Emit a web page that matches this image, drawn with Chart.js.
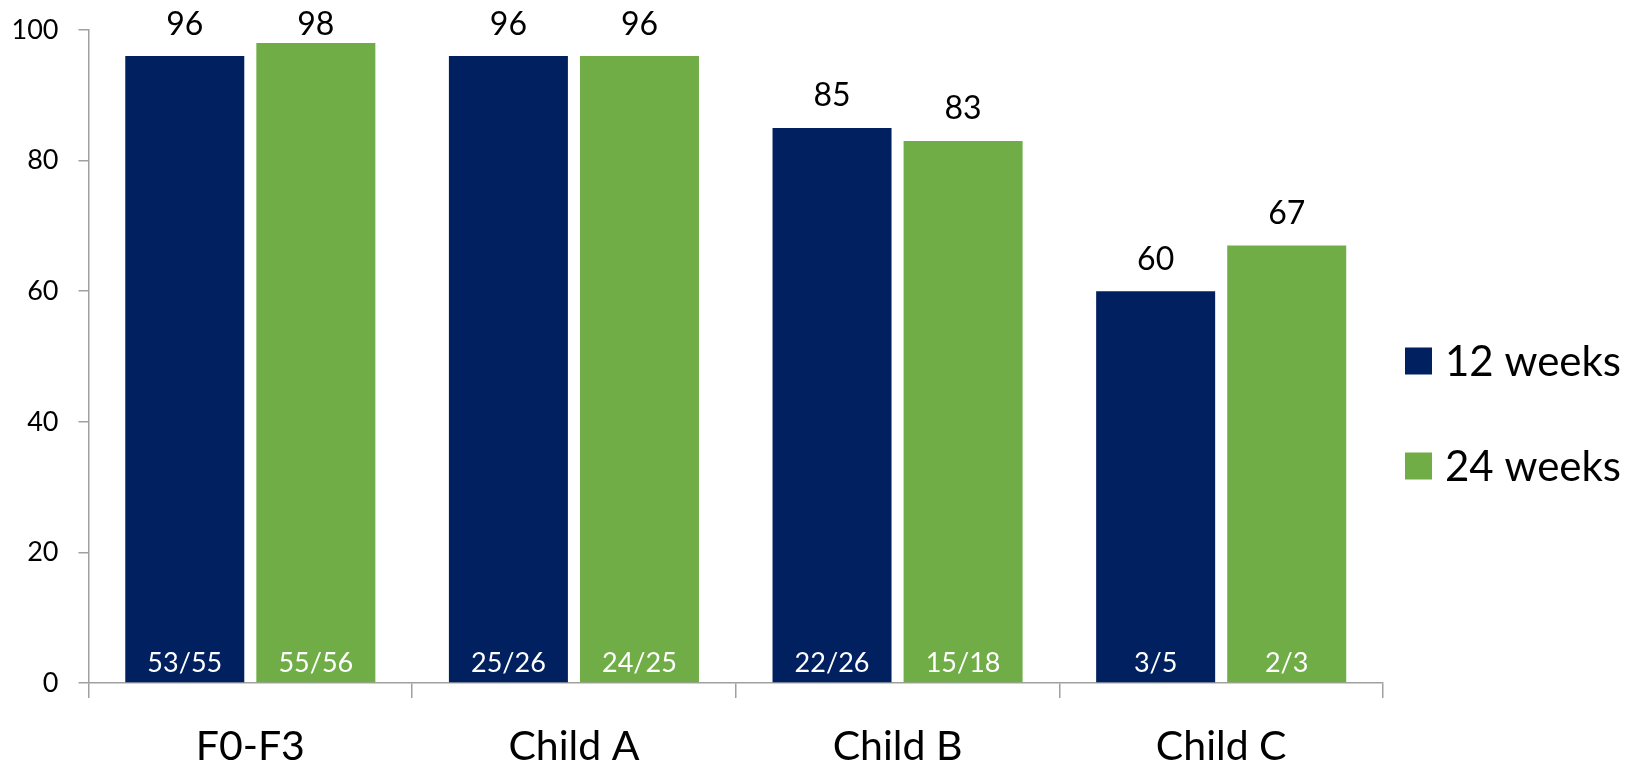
<!DOCTYPE html>
<html>
<head>
<meta charset="utf-8">
<script src="https://cdn.jsdelivr.net/npm/chart.js@4/dist/chart.umd.min.js"></script>
<style>
  html, body { margin: 0; padding: 0; background: #fff; }
  #wrap { width: 1633px; height: 764px; position: relative; }
</style>
</head>
<body>
<div id="wrap"><canvas id="c" width="1633" height="764"></canvas></div>
<script>
// Response rates by group, 12 and 24 weeks
const categories = ['F0-F3', 'Child A', 'Child B', 'Child C'];
const seriesNames = ['12 weeks', '24 weeks'];
const weeks12 = [96, 96, 85, 60];
const weeks24 = [98, 96, 83, 67];
const counts12 = ['53/55', '25/26', '22/26', '3/5'];
const counts24 = ['55/56', '24/25', '15/18', '2/3'];
const yTicks = [0, 20, 40, 60, 80, 100];

const BLUE = '#002060';
const GREEN = '#70AD47';
const AXIS = '#a0a0a0';
const FONT = 'Lato, "Noto Sans", sans-serif';

// Value on top of each bar, n/N count inside the bar foot
const barLabels = {
  id: 'barLabels',
  afterDatasetsDraw(chart) {
    const { ctx } = chart;
    const yScale = chart.scales.y;
    const counts = [counts12, counts24];
    ctx.save();
    ctx.textAlign = 'center';
    ctx.textBaseline = 'middle';
    chart.data.datasets.forEach((ds, di) => {
      const meta = chart.getDatasetMeta(di);
      meta.data.forEach((bar, i) => {
        ctx.fillStyle = '#000';
        ctx.font = '32px ' + FONT;
        // keep the label inside the canvas when the bar reaches the top
        const ly = Math.max(bar.y - 32, 25);
        ctx.fillText(String(ds.data[i]), bar.x, ly);
        ctx.fillStyle = '#fff';
        ctx.font = '27px ' + FONT;
        ctx.fillText(counts[di][i], bar.x, yScale.getPixelForValue(0) - 20);
      });
    });
    ctx.restore();
  }
};

// Legend on the right, stacked vertically
const sideLegend = {
  id: 'sideLegend',
  afterDraw(chart) {
    const { ctx } = chart;
    const x0 = 1405, box = 27;
    const rows = [361, 466];
    ctx.save();
    ctx.textAlign = 'left';
    ctx.textBaseline = 'middle';
    ctx.font = '42px ' + FONT;
    chart.data.datasets.forEach((ds, i) => {
      const cy = rows[i];
      ctx.fillStyle = ds.backgroundColor;
      ctx.fillRect(x0, cy - box / 2, box, box);
      ctx.fillStyle = '#000';
      ctx.fillText(ds.label, x0 + 40, cy + 1);
    });
    ctx.restore();
  }
};

new Chart(document.getElementById('c'), {
  type: 'bar',
  data: {
    labels: categories,
    datasets: [
      { label: seriesNames[0], data: weeks12, backgroundColor: BLUE },
      { label: seriesNames[1], data: weeks24, backgroundColor: GREEN }
    ]
  },
  options: {
    responsive: false,
    animation: false,
    events: [],
    layout: { padding: { top: 30, right: 250, left: 0, bottom: 0 } },
    datasets: { bar: { categoryPercentage: 0.81, barPercentage: 0.908 } },
    plugins: {
      legend: { display: false },
      tooltip: { enabled: false }
    },
    scales: {
      x: {
        grid: {
          offset: true,
          drawOnChartArea: false,
          drawTicks: true,
          tickLength: 15,
          color: AXIS,
          lineWidth: 1.5
        },
        border: { display: true, color: AXIS, width: 1.5 },
        ticks: {
          color: '#000',
          font: { family: FONT, size: 41 },
          padding: 24
        },
        afterFit(scale) { scale.height = 81; }
      },
      y: {
        min: 0,
        max: 100,
        afterBuildTicks(scale) { scale.ticks = yTicks.map(v => ({ value: v })); },
        grid: {
          drawOnChartArea: false,
          drawTicks: true,
          tickLength: 10,
          color: AXIS,
          lineWidth: 1.5
        },
        border: { display: true, color: AXIS, width: 1.5 },
        ticks: {
          color: '#000',
          font: { family: FONT, size: 27 },
          padding: 20
        },
        afterFit(scale) {
          scale.width = 88.5;
          scale.paddingTop = 0;
          scale.paddingBottom = 0;
        }
      }
    }
  },
  plugins: [barLabels, sideLegend]
});
</script>
</body>
</html>
